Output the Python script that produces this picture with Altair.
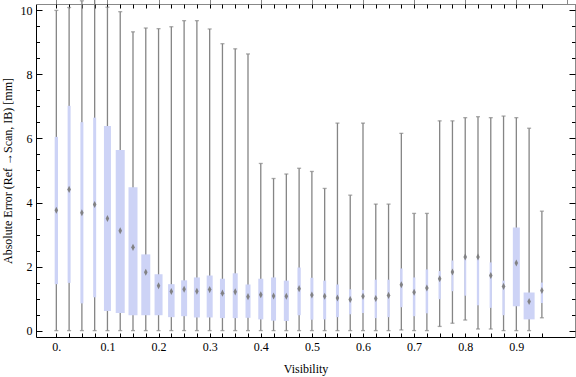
import altair as alt
import pandas as pd

# visibility classes
visibility = [0.0, 0.025, 0.05, 0.075, 0.1, 0.125, 0.15, 0.175, 0.2, 0.225,
              0.25, 0.275, 0.3, 0.325, 0.35, 0.375, 0.4, 0.425, 0.45, 0.475,
              0.5, 0.525, 0.55, 0.575, 0.6, 0.625, 0.65, 0.675, 0.7, 0.725,
              0.75, 0.775, 0.8, 0.825, 0.85, 0.875, 0.9, 0.925, 0.95]
whisker_hi = [10.0, 10.09, 10.3, 10.4, 10.1, 9.96, 9.33, 9.45, 9.43, 9.49,
              9.68, 9.68, 9.42, 8.96, 8.80, 8.64, 5.22, 4.75, 4.89, 5.07,
              4.97, 4.44, 6.48, 4.23, 6.48, 3.95, 3.95, 6.16, 3.66, 3.66,
              6.55, 6.55, 6.65, 6.68, 6.65, 6.70, 6.65, 6.32, 3.73]
whisker_lo = [0.0, 0.0, 0.0, 0.0, 0.0, 0.0, 0.0, 0.0, 0.0, 0.0,
              0.0, 0.0, 0.0, 0.0, 0.0, 0.0, 0.0, 0.0, 0.0, 0.0,
              0.0, 0.0, 0.0, 0.0, 0.0, 0.0, 0.0, 0.02, 0.0, 0.0,
              0.13, 0.23, 0.33, 0.05, 0.05, 0.0, 0.0, 0.0, 0.40]
q3 = [6.05, 7.02, 6.51, 6.65, 6.39, 5.64, 4.48, 2.38, 1.76, 1.45,
      1.57, 1.66, 1.72, 1.62, 1.79, 1.44, 1.62, 1.66, 1.56, 1.97,
      1.65, 1.56, 1.44, 1.29, 1.27, 1.59, 1.59, 1.94, 1.66, 1.91,
      1.86, 2.19, 2.35, 2.25, 2.13, 1.56, 3.22, 1.19, 1.50]
q1 = [1.45, 1.49, 0.85, 1.04, 0.61, 0.55, 0.48, 0.48, 0.48, 0.42,
      0.45, 0.41, 0.41, 0.39, 0.39, 0.40, 0.35, 0.31, 0.30, 0.48,
      0.34, 0.35, 0.42, 0.51, 0.55, 0.39, 0.42, 0.73, 0.45, 0.54,
      0.98, 1.23, 1.09, 0.79, 0.71, 0.48, 0.76, 0.35, 0.86]
median = [3.76, 4.41, 3.68, 3.94, 3.50, 3.12, 2.60, 1.82, 1.40, 1.22,
          1.29, 1.23, 1.28, 1.17, 1.21, 1.06, 1.12, 1.08, 1.07, 1.31,
          1.11, 1.07, 1.02, 0.97, 1.07, 1.00, 1.10, 1.43, 1.20, 1.33,
          1.62, 1.83, 2.30, 2.30, 1.72, 1.38, 2.11, 0.91, 1.25]
# relative sample weight (drives box width)
weight = [3.3, 3.0, 3.0, 3.0, 7.0, 9.0, 9.0, 9.0, 8.0, 6.5,
          6.0, 6.0, 6.0, 5.0, 5.0, 5.0, 5.0, 5.0, 5.0, 3.3,
          3.0, 3.0, 3.0, 2.3, 2.3, 2.3, 2.3, 2.5, 2.5, 2.5,
          2.3, 2.0, 2.0, 2.3, 2.3, 2.3, 7.0, 11.0, 2.3]

x_label_values = [0.0, 0.1, 0.2, 0.3, 0.4, 0.5, 0.6, 0.7, 0.8, 0.9]
y_label_values = [0, 2, 4, 6, 8, 10]
y_tick_values = [v * 0.5 for v in range(0, 21)]

df = pd.DataFrame({"vis": visibility, "lo": whisker_lo, "hi": whisker_hi,
                   "q1": q1, "q3": q3, "med": median, "w": weight})

W, H = 539, 333
FONT = "Liberation Serif"
xs = alt.Scale(domain=[-0.03, 1.005], nice=False, zero=False)
ys = alt.Scale(domain=[-0.2, 10.2], nice=False, zero=False)

label_x_axis = alt.Axis(orient="bottom", values=x_label_values, ticks=False, domain=False,
                        labelExpr="datum.value == 0 ? '0.' : format(datum.value, '.1f')",
                        labelFont=FONT, labelFontSize=12, labelColor="black", labelPadding=4,
                        title="Visibility", titleFont=FONT, titleFontSize=12,
                        titleFontWeight="normal", titleColor="black", titlePadding=11,
                        grid=False)
label_y_axis = alt.Axis(orient="left", values=y_label_values, ticks=False, domain=False,
                        labelFont=FONT, labelFontSize=12, labelColor="black", labelPadding=4,
                        title="Absolute Error (Ref →Scan, IB) [mm]", titleFont=FONT,
                        titleFontSize=12, titleFontWeight="normal", titleColor="black",
                        titlePadding=6, grid=False)

base = alt.Chart(df)
xq = alt.X("vis:Q", scale=xs)

whisk = base.mark_rule(color="#858585", strokeWidth=1.3).encode(
    x=alt.X("vis:Q", scale=xs, axis=label_x_axis),
    y=alt.Y("lo:Q", scale=ys, axis=label_y_axis), y2="hi:Q")
cap_lo = base.mark_tick(orient="horizontal", size=4, thickness=1.3, color="#858585").encode(
    x=xq, y=alt.Y("lo:Q", scale=ys))
cap_hi = base.mark_tick(orient="horizontal", size=4, thickness=1.3, color="#858585").encode(
    x=xq, y=alt.Y("hi:Q", scale=ys))
box = base.mark_bar(color="#cdd3f6").encode(
    x=xq, y=alt.Y("q1:Q", scale=ys), y2="q3:Q",
    size=alt.Size("w:Q", scale=alt.Scale(domain=[0, 11], range=[0, 11]), legend=None))
med = base.mark_point(shape="M0,-1L0.5,0L0,1L-0.5,0Z", filled=True, color="#7d7d7d",
                      size=50, opacity=0.95).encode(x=xq, y=alt.Y("med:Q", scale=ys))

tick_cond = {"condition": {"test": "datum.value % 2 === 0", "value": 6}, "value": 3.5}

# inward ticks at bottom and left edges
ticks_a = base.mark_point(opacity=0).encode(
    x=alt.X("vis:Q", scale=xs, axis=alt.Axis(orient="top", offset=-H, values=visibility,
                                             labels=False, domain=False, tickSize=4,
                                             tickColor="black", title=None, grid=False)),
    y=alt.Y("med:Q", scale=ys, axis=alt.Axis(orient="right", offset=-W, values=y_tick_values,
                                             labels=False, domain=False, tickSize=tick_cond,
                                             tickColor="black", title=None, grid=False)))
# inward ticks at top and right edges
ticks_b = base.mark_point(opacity=0).encode(
    x=alt.X("vis:Q", scale=xs, axis=alt.Axis(orient="bottom", offset=-H, values=visibility,
                                             labels=False, domain=False, tickSize=4,
                                             tickColor="black", title=None, grid=False)),
    y=alt.Y("med:Q", scale=ys, axis=alt.Axis(orient="left", offset=-W, values=y_tick_values,
                                             labels=False, domain=False, tickSize=tick_cond,
                                             tickColor="black", title=None, grid=False)))

chart = alt.layer(whisk, cap_lo, cap_hi, box, med, ticks_a, ticks_b).resolve_axis(
    x="independent", y="independent"
).properties(
    width=W, height=H,
    autosize=alt.AutoSizeParams(type="none"),
    padding={"left": 36, "top": 4, "right": 1, "bottom": 40},
    background="white",
).configure_view(stroke="black", strokeWidth=1)

chart.save("out.html", embed_options={"renderer": "svg", "actions": False})
